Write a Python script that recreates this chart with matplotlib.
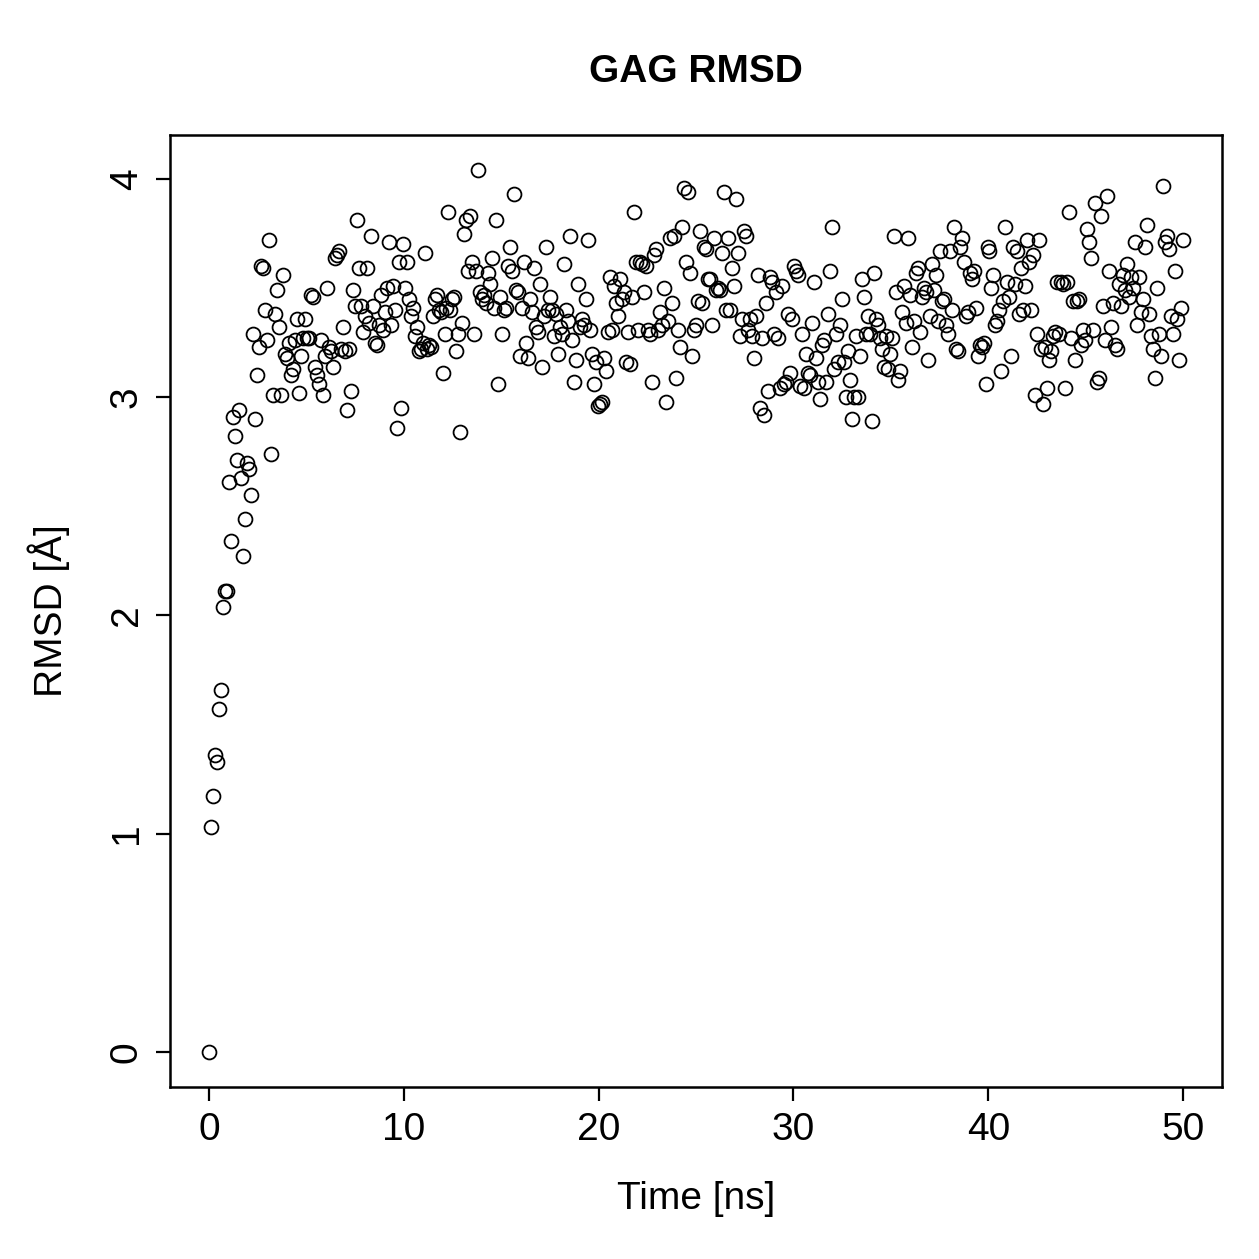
import numpy as np
import matplotlib
matplotlib.use("Agg")
import matplotlib.pyplot as plt

plt.rcParams['font.family'] = ['Liberation Sans', 'DejaVu Sans']

rmsd = [0.00, 1.03, 1.17, 1.36, 1.33, 1.57, 1.66, 2.04, 2.11, 2.11, 2.61, 2.34, 2.91, 2.82, 2.71, 2.94,
        2.63, 2.27, 2.44, 2.70, 2.67, 2.55, 3.29, 2.90, 3.10, 3.23, 3.60, 3.59, 3.40, 3.26, 3.72, 2.74,
        3.01, 3.38, 3.49, 3.32, 3.01, 3.56, 3.20, 3.18, 3.25, 3.10, 3.13, 3.26, 3.36, 3.02, 3.19, 3.27,
        3.36, 3.27, 3.27, 3.47, 3.46, 3.14, 3.10, 3.06, 3.26, 3.01, 3.19, 3.50, 3.23, 3.21, 3.14, 3.64,
        3.65, 3.67, 3.22, 3.32, 3.21, 2.94, 3.22, 3.03, 3.49, 3.42, 3.81, 3.59, 3.42, 3.30, 3.37, 3.59,
        3.34, 3.74, 3.42, 3.25, 3.24, 3.33, 3.47, 3.31, 3.39, 3.50, 3.71, 3.33, 3.51, 3.40, 2.86, 3.62,
        2.95, 3.70, 3.50, 3.62, 3.45, 3.37, 3.41, 3.28, 3.32, 3.21, 3.22, 3.25, 3.66, 3.22, 3.24, 3.23,
        3.37, 3.45, 3.47, 3.40, 3.39, 3.11, 3.29, 3.41, 3.85, 3.40, 3.45, 3.46, 3.21, 3.29, 2.84, 3.34,
        3.75, 3.81, 3.58, 3.83, 3.62, 3.29, 3.58, 4.04, 3.48, 3.45, 3.47, 3.43, 3.57, 3.52, 3.64, 3.41,
        3.81, 3.06, 3.46, 3.29, 3.40, 3.41, 3.60, 3.69, 3.58, 3.93, 3.49, 3.48, 3.19, 3.41, 3.62, 3.25,
        3.18, 3.45, 3.39, 3.59, 3.32, 3.30, 3.52, 3.14, 3.37, 3.69, 3.40, 3.46, 3.40, 3.28, 3.38, 3.20,
        3.32, 3.29, 3.61, 3.40, 3.35, 3.74, 3.26, 3.07, 3.17, 3.52, 3.32, 3.36, 3.33, 3.45, 3.72, 3.31,
        3.20, 3.06, 3.16, 2.96, 2.97, 2.98, 3.18, 3.12, 3.30, 3.55, 3.31, 3.51, 3.43, 3.37, 3.54, 3.45,
        3.48, 3.16, 3.30, 3.15, 3.46, 3.85, 3.62, 3.31, 3.62, 3.61, 3.48, 3.60, 3.31, 3.29, 3.07, 3.65,
        3.68, 3.31, 3.39, 3.33, 3.50, 2.98, 3.35, 3.73, 3.43, 3.74, 3.09, 3.31, 3.23, 3.78, 3.96, 3.62,
        3.94, 3.57, 3.19, 3.31, 3.33, 3.44, 3.76, 3.43, 3.69, 3.68, 3.54, 3.54, 3.33, 3.73, 3.49, 3.50,
        3.49, 3.66, 3.94, 3.40, 3.73, 3.40, 3.59, 3.51, 3.91, 3.66, 3.28, 3.36, 3.76, 3.74, 3.31, 3.36,
        3.28, 3.18, 3.37, 3.56, 2.95, 3.27, 2.92, 3.43, 3.03, 3.55, 3.53, 3.29, 3.48, 3.27, 3.04, 3.51,
        3.06, 3.07, 3.38, 3.11, 3.36, 3.60, 3.58, 3.56, 3.05, 3.29, 3.04, 3.20, 3.11, 3.10, 3.34, 3.53,
        3.18, 3.07, 2.99, 3.24, 3.26, 3.07, 3.38, 3.58, 3.78, 3.13, 3.29, 3.16, 3.33, 3.45, 3.16, 3.00,
        3.21, 3.08, 2.90, 3.00, 3.28, 3.00, 3.19, 3.54, 3.46, 3.29, 3.37, 3.29, 2.89, 3.57, 3.36, 3.33,
        3.27, 3.22, 3.14, 3.28, 3.13, 3.20, 3.27, 3.74, 3.48, 3.08, 3.12, 3.39, 3.51, 3.34, 3.73, 3.47,
        3.23, 3.35, 3.57, 3.59, 3.30, 3.46, 3.50, 3.48, 3.17, 3.37, 3.61, 3.49, 3.56, 3.35, 3.67, 3.44,
        3.45, 3.33, 3.29, 3.67, 3.40, 3.78, 3.22, 3.21, 3.69, 3.73, 3.62, 3.37, 3.39, 3.57, 3.54, 3.58,
        3.41, 3.19, 3.24, 3.23, 3.25, 3.06, 3.69, 3.67, 3.50, 3.56, 3.33, 3.35, 3.40, 3.12, 3.44, 3.78,
        3.53, 3.46, 3.19, 3.69, 3.52, 3.67, 3.38, 3.59, 3.40, 3.51, 3.72, 3.62, 3.40, 3.65, 3.01, 3.29,
        3.72, 3.22, 2.97, 3.23, 3.04, 3.17, 3.21, 3.28, 3.30, 3.53, 3.29, 3.53, 3.52, 3.04, 3.53, 3.85,
        3.27, 3.44, 3.17, 3.44, 3.45, 3.24, 3.31, 3.26, 3.77, 3.71, 3.64, 3.31, 3.89, 3.07, 3.09, 3.83,
        3.42, 3.26, 3.92, 3.58, 3.32, 3.43, 3.24, 3.22, 3.52, 3.42, 3.56, 3.49, 3.61, 3.46, 3.55, 3.50,
        3.71, 3.33, 3.55, 3.39, 3.45, 3.69, 3.79, 3.38, 3.28, 3.22, 3.09, 3.50, 3.29, 3.19, 3.97, 3.71,
        3.74, 3.68, 3.37, 3.29, 3.58, 3.36, 3.17, 3.41, 3.72]
time_ns = np.linspace(0, 50, len(rmsd))

x_ticks = [0, 10, 20, 30, 40, 50]
y_ticks = [0, 1, 2, 3, 4]

fig = plt.figure(figsize=(12.59, 12.59), dpi=100)
ax = fig.add_axes([0.135, 0.1366, 0.8357, 0.7562])

ax.plot(time_ns, rmsd, linestyle='none', marker='o', markersize=10,
        markerfacecolor='none', markeredgecolor='black', markeredgewidth=1.3)

ax.set_xlim(-2, 52)
ax.set_ylim(-0.1616, 4.2016)
ax.set_xticks(x_ticks)
ax.set_yticks(y_ticks)
ax.tick_params(direction='out', length=10, width=1.6, labelsize=28, pad=8)
for lab in ax.get_yticklabels():
    lab.set_rotation(90)
    lab.set_va('center')
for sp in ax.spines.values():
    sp.set_linewidth(1.8)

ax.set_xlabel('Time [ns]', fontsize=28, labelpad=24)
ax.set_ylabel('RMSD [Å]', fontsize=28, labelpad=28)
ax.set_title('GAG RMSD', fontsize=28, fontweight='bold', pad=38)

fig.savefig('out.png', dpi=100)
